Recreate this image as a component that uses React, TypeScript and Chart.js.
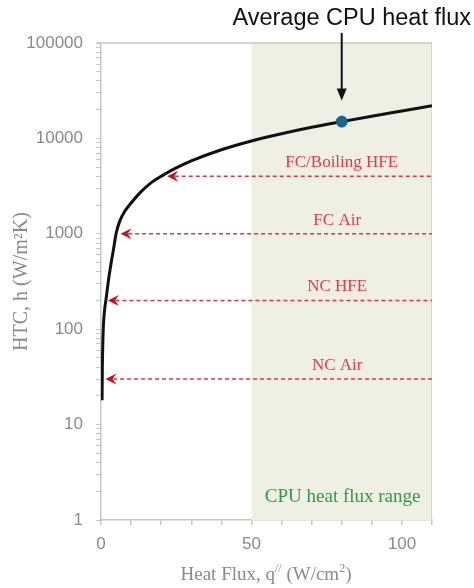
import React, { useEffect, useRef } from 'react';
import { Chart, registerables } from 'chart.js';

Chart.register(...registerables);

// Curve: heat flux q (W/cm²) vs HTC h (W/m²K)
const curveQ = [0.35, 0.45, 0.6, 0.8, 1.2, 1.8, 2.5, 3.3, 4.2, 5.0, 6.2, 7.8, 10, 13, 16.5, 20.5, 25, 30, 40, 50, 60, 70, 80, 90, 100, 110];
const curveH = [18, 40, 70, 110, 160, 220, 330, 480, 700, 1000, 1350, 1700, 2100, 2700, 3400, 4100, 4900, 5800, 7600, 9400, 11200, 13100, 15000, 17100, 19400, 22000];

// Average CPU heat flux marker
const avgQ = [80];
const avgH = [15000];
const avgLabel = 'Average CPU heat flux';

// Cooling-method reference arrows
const arrowLabels = ['FC/Boiling HFE', 'FC Air', 'NC HFE', 'NC Air'];
const arrowH = [4000, 1000, 200, 30];
const arrowTipQ = [22, 6.5, 2.3, 1.5];
const arrowLabelQ = [80, 78.5, 78.5, 78.5];
const arrowEndQ = 110;

// CPU heat flux range band
const rangeQ = [50, 110];
const rangeLabel = 'CPU heat flux range';

// Axes
const xTickLabels = [0, 50, 100];
const yTickLabels = [1, 10, 100, 1000, 10000, 100000];
const xMin = 0;
const xMax = 110;
const yTitle = 'HTC, h (W/m\u00B2K)';

const GREY = '#8a8a8a';
const AXIS = '#c6c6c6';

const annotations = {
  id: 'annotations',
  beforeDatasetsDraw(chart: any) {
    const { ctx, chartArea, scales } = chart;
    const x = scales.x;
    ctx.save();
    const x0 = x.getPixelForValue(rangeQ[0]);
    const x1 = x.getPixelForValue(rangeQ[1]);
    ctx.fillStyle = '#edf0e3';
    ctx.fillRect(x0, chartArea.top + 1, x1 - x0, chartArea.bottom - chartArea.top - 1);
    ctx.strokeStyle = '#d6dacb';
    ctx.lineWidth = 1;
    ctx.beginPath();
    ctx.moveTo(x1 - 0.5, chartArea.top);
    ctx.lineTo(x1 - 0.5, chartArea.bottom);
    ctx.stroke();
    // top border
    ctx.strokeStyle = AXIS;
    ctx.lineWidth = 1.5;
    ctx.beginPath();
    ctx.moveTo(chartArea.left - 4, chartArea.top);
    ctx.lineTo(chartArea.right, chartArea.top);
    ctx.stroke();
    ctx.restore();
  },
  afterDatasetsDraw(chart: any) {
    const { ctx, chartArea, scales } = chart;
    const x = scales.x;
    const y = scales.y;
    ctx.save();
    // red arrowheads + labels
    arrowLabels.forEach((label, i) => {
      const tx = x.getPixelForValue(arrowTipQ[i]);
      const ty = y.getPixelForValue(arrowH[i]);
      ctx.fillStyle = '#c8101e';
      ctx.beginPath();
      ctx.moveTo(tx, ty);
      ctx.lineTo(tx + 11, ty - 5.5);
      ctx.lineTo(tx + 7, ty);
      ctx.lineTo(tx + 11, ty + 5.5);
      ctx.closePath();
      ctx.fill();
      ctx.fillStyle = '#ee3545';
      ctx.font = '17px "Liberation Serif"';
      ctx.textAlign = 'center';
      ctx.textBaseline = 'alphabetic';
      ctx.fillText(label, x.getPixelForValue(arrowLabelQ[i]), ty - 9);
    });
    // green range label
    ctx.fillStyle = '#2f9a43';
    ctx.font = '19px "Liberation Serif"';
    ctx.textAlign = 'center';
    ctx.fillText(rangeLabel, x.getPixelForValue(80.3), chartArea.bottom - 18);
    // black arrow to average point
    const ax = x.getPixelForValue(avgQ[0]);
    const tipY = y.getPixelForValue(avgH[0]) - 21;
    ctx.strokeStyle = '#111';
    ctx.lineWidth = 2;
    ctx.beginPath();
    ctx.moveTo(ax, 33);
    ctx.lineTo(ax, tipY - 8);
    ctx.stroke();
    ctx.fillStyle = '#111';
    ctx.beginPath();
    ctx.moveTo(ax, tipY);
    ctx.lineTo(ax - 5, tipY - 12);
    ctx.lineTo(ax + 5, tipY - 12);
    ctx.closePath();
    ctx.fill();
    ctx.font = '23.5px "Liberation Sans"';
    ctx.textAlign = 'center';
    ctx.fillText(avgLabel, ax + 10, 25);
    // x-axis title with superscripts
    const base = 580;
    const big = '19px "Liberation Serif"';
    const small = '12px "Liberation Serif"';
    const parts = [
      { t: 'Heat Flux, q', f: big, dy: 0 },
      { t: '//', f: small, dy: -8 },
      { t: ' (W/cm', f: big, dy: 0 },
      { t: '2', f: small, dy: -8 },
      { t: ')', f: big, dy: 0 },
    ];
    let total = 0;
    parts.forEach((p) => { ctx.font = p.f; total += ctx.measureText(p.t).width; });
    let cx = 266 - total / 2;
    ctx.fillStyle = GREY;
    ctx.textAlign = 'left';
    parts.forEach((p) => {
      ctx.font = p.f;
      ctx.fillText(p.t, cx, base + p.dy);
      cx += ctx.measureText(p.t).width;
    });
    ctx.restore();
  },
};

export default function App() {
  const ref = useRef<HTMLCanvasElement | null>(null);
  useEffect(() => {
    if (!ref.current) return;
    const curve = curveQ.map((q, i) => ({ x: q, y: curveH[i] }));
    const arrowSets = arrowLabels.map((label, i) => ({
      type: 'line' as const,
      label,
      data: [
        { x: arrowTipQ[i] + 2.5, y: arrowH[i] },
        { x: arrowEndQ, y: arrowH[i] },
      ],
      borderColor: '#e8333f',
      borderWidth: 1.5,
      borderDash: [4, 3],
      pointRadius: 0,
      fill: false,
    }));
    const chart = new Chart(ref.current, {
      type: 'line',
      data: {
        datasets: [
          {
            type: 'scatter' as any,
            label: avgLabel,
            data: avgQ.map((q, i) => ({ x: q, y: avgH[i] })),
            backgroundColor: '#16668f',
            borderColor: '#16668f',
            pointRadius: 5.5,
            showLine: false,
          } as any,
          {
            label: 'HTC',
            data: curve,
            borderColor: '#111111',
            borderWidth: 3,
            pointRadius: 0,
            cubicInterpolationMode: 'monotone',
            fill: false,
          },
          ...arrowSets,
        ],
      },
      options: {
        responsive: false,
        animation: false,
        layout: { padding: { top: 43, right: 42, left: 0, bottom: 0 } },
        plugins: { legend: { display: false }, tooltip: { enabled: false } },
        scales: {
          x: {
            type: 'linear',
            min: xMin,
            max: xMax,
            afterFit: (s: any) => { s.height = 68; },
            ticks: {
              stepSize: 10,
              autoSkip: false,
              maxRotation: 0,
              padding: 9,
              color: GREY,
              font: { family: 'Liberation Sans', size: 17 },
              callback: (v: any) => (xTickLabels.includes(Number(v)) ? String(v) : ''),
            },
            grid: { drawOnChartArea: false, tickLength: 5, color: AXIS, lineWidth: 1.5 },
            border: { color: AXIS, width: 1.5 },
          },
          y: {
            type: 'logarithmic',
            min: 1,
            max: 100000,
            afterFit: (s: any) => { s.width = 101; },
            afterBuildTicks: (s: any) => {
              const t: any[] = [];
              for (let e = 0; e < 5; e++) {
                for (let m = 1; m < 10; m++) t.push({ value: m * Math.pow(10, e) });
              }
              t.push({ value: 100000 });
              s.ticks = t;
            },
            ticks: {
              autoSkip: false,
              padding: 13,
              color: GREY,
              font: { family: 'Liberation Sans', size: 17 },
              callback: (v: any) => (yTickLabels.includes(Number(v)) ? String(v) : ''),
            },
            grid: { drawOnChartArea: false, tickLength: 5, color: AXIS, lineWidth: 1 },
            border: { color: AXIS, width: 1.5 },
            title: {
              display: true,
              text: yTitle,
              color: GREY,
              font: { family: 'Liberation Serif', size: 20 },
              padding: { top: 10, bottom: 0 },
            },
          },
        },
      },
      plugins: [annotations],
    });
    return () => chart.destroy();
  }, []);
  return (
    <div style={{ position: 'fixed', left: 0, top: 0, width: 474, height: 588, background: '#fff' }}>
      <canvas ref={ref} width={474} height={588} />
    </div>
  );
}
